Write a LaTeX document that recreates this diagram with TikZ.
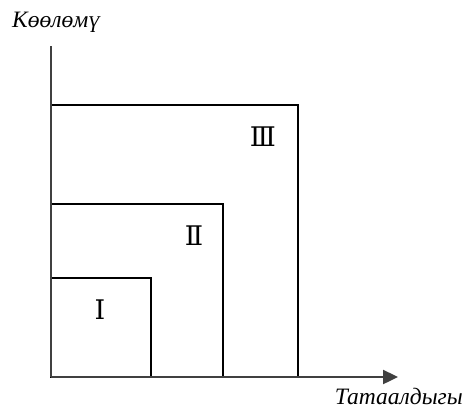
\documentclass[tikz,border=0pt]{standalone}
\usepackage{fontspec}
\setmainfont{Liberation Serif}
\newfontfamily\numfont{DejaVu Serif}
\usetikzlibrary{arrows.meta,positioning}

\begin{document}
\begin{tikzpicture}[
  x=1pt, y=-1pt,
  axis/.style={line width=2.4pt, draw=black!75},
  zone/.style={draw, line width=1.6pt},
  numeral/.style={font=\numfont\fontsize{27}{27}\selectfont, inner sep=0pt},
  caption/.style={font=\fontsize{23.5}{23.5}\selectfont\itshape, inner sep=0pt}
]
\useasboundingbox (0,0) rectangle (465,410);
\coordinate (o) at (51,377);
\coordinate (ytop) at (51,46);
\coordinate (xend) at (398,377);
% nested zones
\draw[zone] (o) rectangle (298,105);
\draw[zone] (o) rectangle (223,204);
\draw[zone] (o) rectangle (151,278);
% axes
\draw[axis] (o) -- (ytop);
\draw[axis, -{Triangle[length=15pt, width=14pt]}] (o) -- (xend);
\node[numeral] (one) at (100,310) {Ⅰ};
\node[numeral] (two) at (194,236) {Ⅱ};
\node[numeral] (three) at (263,137) {Ⅲ};
\node[caption, anchor=base west] (ylab) at (12,27) {Көөлөмү};
\node[caption, anchor=base east] (xlab) at (463,404) {Татаалдыгы};
\end{tikzpicture}
\end{document}
